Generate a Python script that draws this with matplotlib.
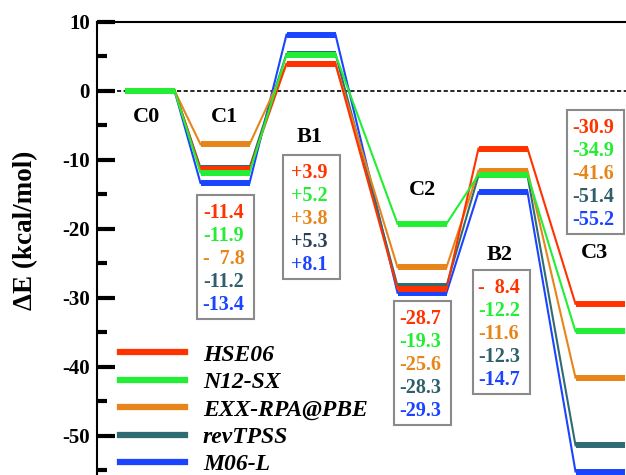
import numpy as np
import matplotlib
matplotlib.use("Agg")
import matplotlib.pyplot as plt
from matplotlib.patches import Rectangle

plt.rcParams["font.family"] = ["Liberation Serif", "DejaVu Serif"]
plt.rcParams["font.weight"] = "bold"
plt.rcParams["axes.unicode_minus"] = False

states = ["C0", "C1", "B1", "C2", "B2", "C3"]
methods = ["HSE06", "N12-SX", "EXX-RPA@PBE", "revTPSS", "M06-L"]
energies = {
    "HSE06":       [0.0, -11.4, 3.9, -28.7, -8.4, -30.9],
    "N12-SX":      [0.0, -11.9, 5.2, -19.3, -12.2, -34.9],
    "EXX-RPA@PBE": [0.0, -7.8, 3.8, -25.6, -11.6, -41.6],
    "revTPSS":     [0.0, -11.2, 5.3, -28.3, -12.3, -51.4],
    "M06-L":       [0.0, -13.4, 8.1, -29.3, -14.7, -55.2],
}
# value labels shown in the boxes (C1..C3)
box_labels = {
    "C1": ["-11.4", "-11.9", "-  7.8", "-11.2", "-13.4"],
    "B1": ["+3.9", "+5.2", "+3.8", "+5.3", "+8.1"],
    "C2": ["-28.7", "-19.3", "-25.6", "-28.3", "-29.3"],
    "B2": ["-  8.4", "-12.2", "-11.6", "-12.3", "-14.7"],
    "C3": ["-30.9", "-34.9", "-41.6", "-51.4", "-55.2"],
}

colors = {
    "HSE06": "#FF3300",
    "N12-SX": "#22EE33",
    "EXX-RPA@PBE": "#E8851A",
    "revTPSS": "#2F6B73",
    "M06-L": "#1A44FF",
}
box_text_colors = ["#FF3300", "#22EE33", "#E8851A", "#2F5F6A", "#1A44FF"]

# layout (x in pixel-like units)
xc = [150, 225, 311, 422, 503, 600]
half = 24.5
label_pos = [(147, -3.8), (225, -3.8), (310, -6.7), (423, -14.4), (500, -23.8), (595, -23.5)]
box_pos = {"C1": (225.5, -15.1), "B1": (311, -9.35), "C2": (422, -30.5),
           "B2": (501, -26.0), "C3": (595.5, -2.8)}
box_w, box_h = 57, 124 / 6.9
line_step = 23 / 6.9

fig = plt.figure(figsize=(6.26, 4.75), dpi=100)
ax = fig.add_axes([97 / 626, 0, 529 / 626, 453.5 / 475])

ax.axhline(0, color="black", lw=1.2, dashes=(2.5, 1.5), zorder=1)

draw_order = ["M06-L", "revTPSS", "EXX-RPA@PBE", "HSE06", "N12-SX"]
for m in draw_order:
    e = energies[m]
    z = 3 + draw_order.index(m) * 0.1
    for i in range(len(states)):
        ax.plot([xc[i] - half, xc[i] + half], [e[i], e[i]], color=colors[m],
                lw=4.3, solid_capstyle="butt", zorder=z + 1)
        if i < len(states) - 1:
            ax.plot([xc[i] + half, xc[i + 1] - half], [e[i], e[i + 1]],
                    color=colors[m], lw=1.5, zorder=z)

for s, (x, y) in zip(states, label_pos):
    ax.text(x, y, s, ha="center", va="center", fontsize=16, fontweight="bold")

for s, (bx, top) in box_pos.items():
    ax.add_patch(Rectangle((bx - box_w / 2, top - box_h), box_w, box_h,
                           fill=False, edgecolor="#8a8a8a", lw=1.5, zorder=6))
    for k, txt in enumerate(box_labels[s]):
        col = box_text_colors[k]
        if s == "B1" and k == 3:
            col = "#27405A"
        ax.text(bx - 2, top - 18 / 6.9 - k * line_step, txt, ha="center",
                va="center", fontsize=14.5, fontweight="bold", color=col, zorder=7)

# legend
handles = [ax.plot([], [], color=colors[m], lw=4.5)[0] for m in methods]
leg = ax.legend(handles, methods, loc="upper left", frameon=False,
                bbox_to_anchor=(120 / 626, 1 - 344 / 475),
                bbox_transform=fig.transFigure, borderpad=0, borderaxespad=0,
                handlelength=2.75, handletextpad=0.76, labelspacing=0.25,
                prop={"family": "Liberation Serif", "weight": "bold",
                      "style": "italic", "size": 17})

ax.set_xlim(97, 626)
ax.set_ylim(-55.7, 10)
ax.set_yticks(np.arange(-50, 11, 10))
ax.set_yticks(np.arange(-55, 11, 5), minor=True)
ax.set_xticks([])
ax.tick_params(axis="y", which="major", direction="in", length=13, width=3,
               pad=5, labelsize=15)
ax.tick_params(axis="y", which="minor", direction="in", length=7.5, width=3)
for lab in ax.get_yticklabels():
    lab.set_fontweight("bold")
ax.spines["right"].set_visible(False)
ax.spines["bottom"].set_visible(False)
ax.spines["left"].set_linewidth(1.5)
ax.spines["top"].set_linewidth(1.5)

ax.set_ylabel("ΔE (kcal/mol)", fontsize=19.5, fontweight="bold")
ax.yaxis.set_label_coords(-59 / 529, (475 - 230) / 453.5)

fig.savefig("out.png", dpi=100)
